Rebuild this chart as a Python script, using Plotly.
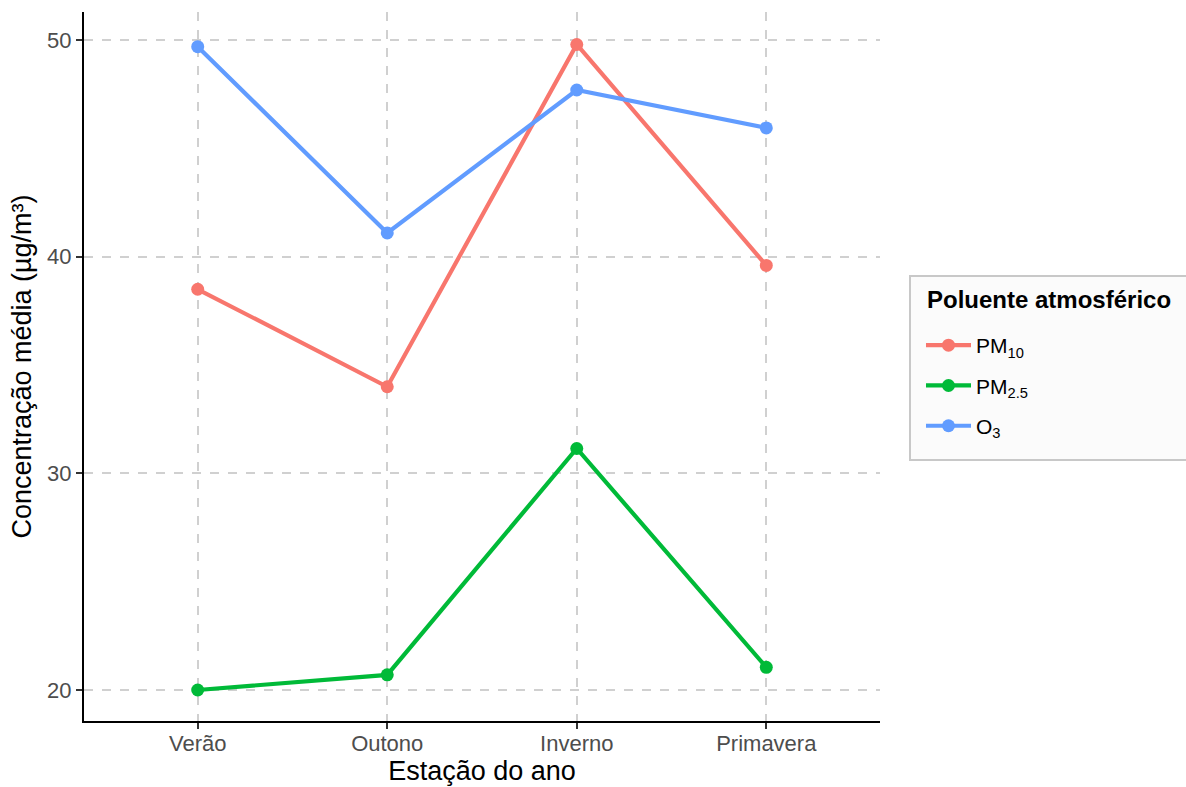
import plotly.graph_objects as go

seasons = ["Verão", "Outono", "Inverno", "Primavera"]
pm10 = [38.5, 34.0, 49.8, 39.6]
pm25 = [20.0, 20.7, 31.15, 21.05]
o3 = [49.7, 41.1, 47.7, 45.95]
series_names = ["PM<sub>10</sub>", "PM<sub>2.5</sub>", "O<sub>3</sub>"]
colors = ["#F8766D", "#00BA38", "#619CFF"]
y_ticks = [20, 30, 40, 50]
legend_title = "<b>Poluente atmosférico</b>"

fig = go.Figure()
for i, (name, vals, col) in enumerate(zip(series_names, [pm10, pm25, o3], colors)):
    fig.add_trace(go.Scatter(
        x=seasons, y=vals, name=name, mode="lines+markers",
        legendgroup=f"g{i}",
        line=dict(color=col, width=4.2),
        marker=dict(color=col, size=13),
    ))

# legend box and title (drawn separately to match spacing)
fig.add_shape(type="rect", xref="paper", yref="paper",
              x0=1.0377, x1=1.45, y0=0.368, y1=0.6277,
              fillcolor="#fbfbfb", line=dict(color="#c8c8c8", width=2), layer="below")
fig.add_annotation(text=legend_title, xref="paper", yref="paper",
                   x=1.0565, y=0.5938, xanchor="left", yanchor="middle",
                   showarrow=False, font=dict(size=24, color="black"))

fig.update_layout(
    width=1186, height=787,
    margin=dict(l=84, r=306, t=12, b=66),
    plot_bgcolor="white", paper_bgcolor="white",
    font=dict(family="Liberation Sans, Arial, sans-serif", color="black"),
    legend=dict(
        font=dict(size=21, color="black"),
        x=1.0515, xanchor="left", y=0.5585, yanchor="top",
        bgcolor="rgba(0,0,0,0)", borderwidth=0,
        tracegroupgap=10, itemwidth=45,
    ),
    xaxis=dict(
        title=dict(text="Estação do ano", font=dict(size=27), standoff=4),
        tickfont=dict(size=22, color="#4d4d4d"),
        showline=True, linecolor="black", linewidth=2,
        ticks="outside", ticklen=6, tickcolor="#333333", tickwidth=2,
        ticklabelstandoff=-4,
        showgrid=True, gridcolor="#d0d0d0", griddash="dash", gridwidth=1.5,
        range=[-0.6, 3.6], zeroline=False, automargin=False,
    ),
    yaxis=dict(
        title=dict(text="Concentração média (µg/m³)", font=dict(size=27), standoff=8),
        tickfont=dict(size=22, color="#4d4d4d"),
        tickvals=y_ticks,
        showline=True, linecolor="black", linewidth=2,
        ticks="outside", ticklen=6, tickcolor="#333333", tickwidth=2,
        showgrid=True, gridcolor="#d0d0d0", griddash="dash", gridwidth=1.5,
        range=[18.57, 51.3], zeroline=False,
    ),
)

fig.write_html("out.html", config={"displayModeBar": False},
               post_script="document.body.style.margin='0';")
